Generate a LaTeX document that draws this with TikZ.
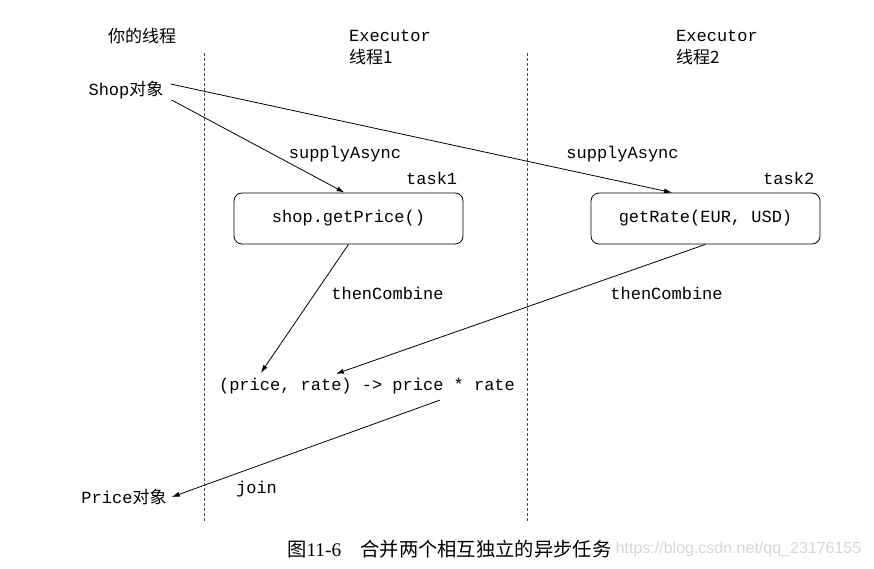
\documentclass[tikz,border=0pt]{standalone}
\usepackage{fontspec}
\setmainfont{Liberation Serif}
\setmonofont{Liberation Mono}
\newfontfamily\cjk{Noto Sans CJK SC}
\newfontfamily\urlfont{Liberation Sans}
\usetikzlibrary{arrows.meta, positioning}
\definecolor{LaneInk}{HTML}{4A4A4A}
\definecolor{MarkInk}{HTML}{D6D6D6}

\begin{document}
\begin{tikzpicture}[
    x=1pt, y=-1pt,
    font=\fontsize{17}{20}\selectfont\ttfamily,
    lbl/.style={inner sep=2pt},
    task/.style={
      draw,
      rounded corners=8pt,
      line width=0.8pt,
      minimum width=229pt,
      minimum height=51pt,
      inner sep=0pt,
    },
    flow/.style={line width=0.8pt, -{Latex[length=8pt,width=5pt]}},
    lane/.style={LaneInk, line width=0.8pt, dash pattern=on 3pt off 2pt},
  ]
    \useasboundingbox (0,0) rectangle (874,569);

    % ---- lanes ----
    \draw[lane] (204,53) -- (204,522);
    \draw[lane] (527,53) -- (527,522);

    % ---- headings ----
    \node[lbl] (h0) at (142,36) {\cjk 你的线程};
    \node[lbl, anchor=west] (h1) at (347,36) {Executor};
    \node[lbl, anchor=west] (h1b) at (347,57) {\cjk 线程1};
    \node[lbl, anchor=west] (h2) at (674,36) {Executor};
    \node[lbl, anchor=west] (h2b) at (674,57) {\cjk 线程2};

    % ---- objects ----
    \node[lbl] (shop) at (126,90) {Shop{\cjk 对象}};
    \node[lbl] (price) at (124,497) {Price{\cjk 对象}};

    % ---- tasks ----
    \node[task] (t1) at (348.5,218.5) {shop.getPrice()};
    \node[task] (t2) at (705.5,218.5) {getRate(EUR, USD)};
    \node[lbl, anchor=south east] (k1) at ([xshift=-4pt,yshift=6pt]t1.north east) {task1};
    \node[lbl, anchor=south east] (k2) at ([xshift=-4pt,yshift=6pt]t2.north east) {task2};
    \node[lbl] (comb) at (367,386) {(price, rate) -> price * rate};

    % ---- edge labels ----
    \node[lbl] (sa1) at (345,154) {supplyAsync};
    \node[lbl] (sa2) at (622.5,154) {supplyAsync};
    \node[lbl] (tc1) at (387.5,293) {thenCombine};
    \node[lbl] (tc2) at (666.5,293) {thenCombine};
    \node[lbl] (jn) at (256.5,489) {join};

    % ---- connectors ----
    \draw[flow] ([shift={(6pt,-10pt)}]shop.east) -- ([xshift=-4pt]t1.north);
    \draw[flow] ([shift={(5pt,6pt)}]shop.east) -- ([xshift=-33.5pt]t2.north);
    \draw[flow] (t1.south) -- ([shift={(44pt,3pt)}]comb.north west);
    \draw[flow] (t2.south) -- ([shift={(119pt,2pt)}]comb.north west);
    \draw[flow] ([shift={(223pt,-4pt)}]comb.south west) -- ([xshift=3pt]price.east);

    % ---- caption ----
    \node[inner sep=0pt, anchor=west] (cap) at (287,549)
      {\rmfamily\fontsize{19.3}{22}\selectfont{\cjk 图}11-6\quad{\cjk 合并两个相互独立的异步任务}};
    \node[inner sep=0pt, anchor=west, right=4pt of cap, text=MarkInk] (mark)
      {\urlfont\fontsize{16}{19}\selectfont https://blog.csdn.net/qq\_23176155};
  \end{tikzpicture}
\end{document}
